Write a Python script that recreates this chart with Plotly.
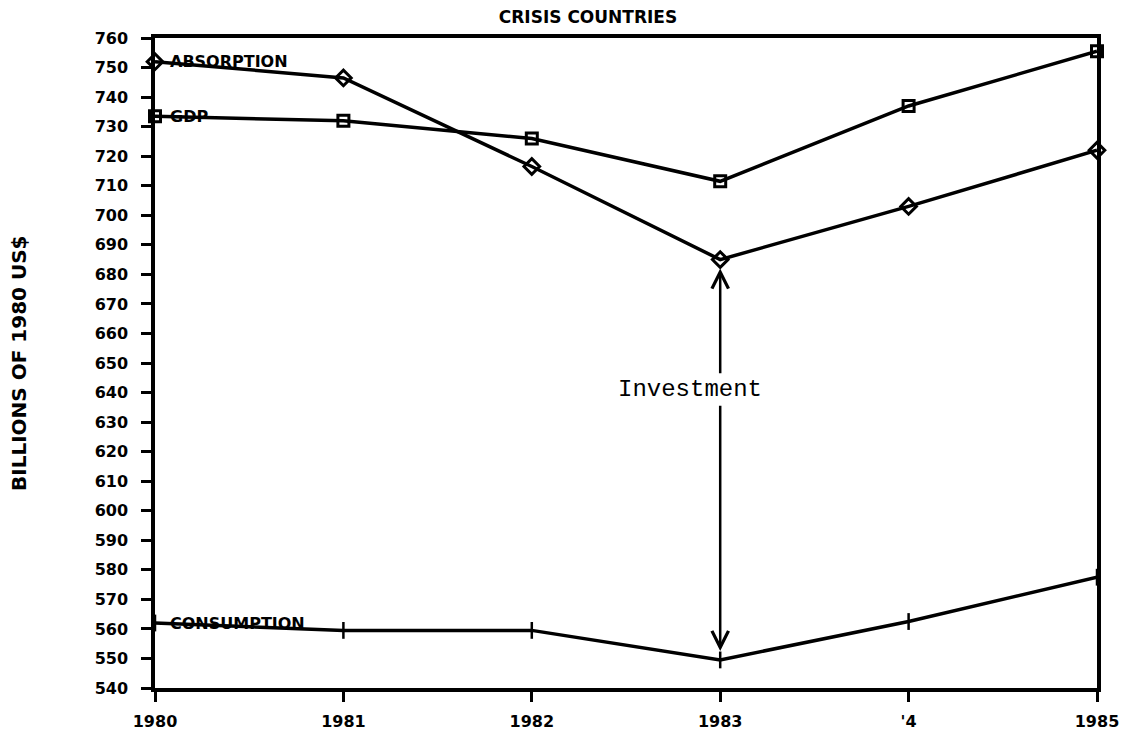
import plotly.graph_objects as go

years = [1980, 1981, 1982, 1983, 1984, 1985]
year_labels = ["1980", "1981", "1982", "1983", "'4", "1985"]
absorption = [752, 746.5, 716.5, 685, 703, 722]
gdp = [733.5, 732, 726, 711.5, 737, 755.5]
consumption = [562, 559.5, 559.5, 549.5, 562.5, 577.5]
y_ticks = list(range(540, 761, 10))

BOLD = dict(family="DejaVu Sans", color="black", weight="bold")

fig = go.Figure()
fig.add_trace(go.Scatter(x=years, y=absorption, mode="lines+markers", name="ABSORPTION",
                         line=dict(color="black", width=3.5),
                         marker=dict(symbol="diamond-open", size=12, color="black", line=dict(width=3, color="black")),
                         cliponaxis=False))
fig.add_trace(go.Scatter(x=years, y=gdp, mode="lines+markers", name="GDP",
                         line=dict(color="black", width=3.5),
                         marker=dict(symbol="square-open", size=11, color="black", line=dict(width=3, color="black")),
                         cliponaxis=False))
fig.add_trace(go.Scatter(x=years, y=consumption, mode="lines+markers", name="CONSUMPTION",
                         line=dict(color="black", width=3.5),
                         marker=dict(symbol="line-ns", size=12, color="black", line=dict(width=2.5, color="black")),
                         cliponaxis=False))

# series labels
for txt, val in [("ABSORPTION", absorption[0]), ("GDP", gdp[0]), ("CONSUMPTION", consumption[0])]:
    fig.add_annotation(x=years[0], y=val, text=txt, showarrow=False, xanchor="left", yanchor="middle",
                       xshift=13, font=dict(size=16, **BOLD))

# Investment double arrow
x_arr = years[3]
fig.add_annotation(x=x_arr, y=absorption[3] - 3, ax=x_arr, ay=646, axref="x", ayref="y",
                   xref="x", yref="y", text="", showarrow=True, arrowhead=5, arrowsize=1.3,
                   arrowwidth=2.5, arrowcolor="black")
fig.add_annotation(x=x_arr, y=consumption[3] + 3, ax=x_arr, ay=636, axref="x", ayref="y",
                   xref="x", yref="y", text="", showarrow=True, arrowhead=5, arrowsize=1.3,
                   arrowwidth=2.5, arrowcolor="black")
fig.add_annotation(x=x_arr, y=641, text="Investment", showarrow=False, xshift=-30,
                   font=dict(family="Liberation Mono", size=24, color="black"))

# y-axis title as rotated annotation
fig.add_annotation(x=0, xref="paper", y=0.5, yref="paper", xshift=-136, textangle=-90,
                   text="BILLIONS OF 1980 US$", showarrow=False, xanchor="center", yanchor="middle",
                   font=dict(size=20, **BOLD))

fig.update_layout(
    width=1124, height=725,
    margin=dict(l=147, r=35, t=30, b=45),
    paper_bgcolor="white", plot_bgcolor="white",
    showlegend=False,
    title=dict(text="CRISIS COUNTRIES", x=(588 - 8) / 1124, xanchor="center", y=1 - 3 / 725, yanchor="top",
               font=dict(size=17, **BOLD), automargin=False),
    xaxis=dict(range=[1980, 1985], tickvals=years, ticktext=year_labels, automargin=False,
               showgrid=False, zeroline=False, showline=True, linecolor="black", linewidth=3.5,
               mirror=True, ticks="outside", ticklen=10, tickwidth=3, tickcolor="black",
               ticklabelstandoff=6,
               tickfont=dict(size=16, **BOLD)),
    yaxis=dict(range=[540, 760], tickvals=y_ticks, automargin=False,
               showgrid=False, zeroline=False, showline=True, linecolor="black", linewidth=3.5,
               mirror=True, ticks="outside", ticklen=10, tickwidth=3, tickcolor="black",
               ticklabelstandoff=10,
               tickfont=dict(size=16, **BOLD)),
)

fig.write_html("out.html")
